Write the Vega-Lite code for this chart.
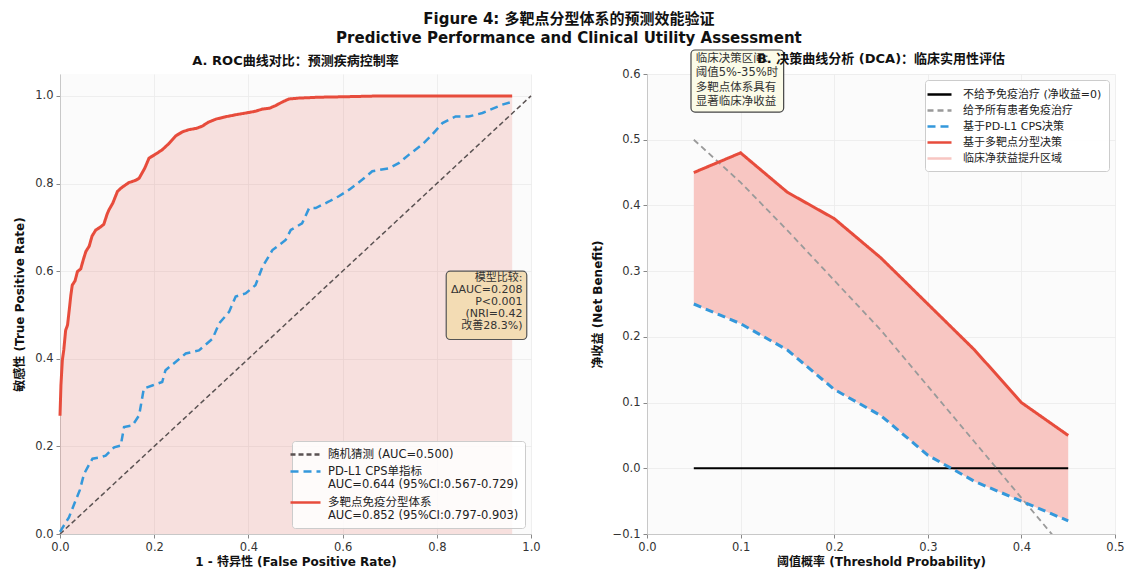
{
  "$schema": "https://vega.github.io/schema/vega-lite/v6.json",
  "background": "white",
  "padding": {"left": 13, "top": 12, "right": 5, "bottom": 5},
  "title": {
    "text": ["Figure 4: 多靶点分型体系的预测效能验证", "Predictive Performance and Clinical Utility Assessment"],
    "anchor": "middle",
    "fontSize": 15,
    "fontWeight": "bold",
    "lineHeight": 19,
    "color": "#111111",
    "offset": 3
  },
  "config": {
    "font": "DejaVu Sans, Noto Sans CJK SC",
    "view": {"stroke": null, "fill": "#fbfbfb"},
    "axis": {
      "domainColor": "#c8c8c8",
      "tickColor": "#888888",
      "tickSize": 4,
      "labelFontSize": 11.5,
      "labelColor": "#333333",
      "labelPadding": 3,
      "labelFlush": false,
      "titleFontSize": 12,
      "titleFontWeight": "bold",
      "titleColor": "#111111",
      "gridColor": "#ebebeb",
      "gridWidth": 0.8
    }
  },
  "spacing": 50,
  "resolve": {
    "scale": {"color": "independent", "strokeDash": "independent"},
    "legend": {"color": "independent", "strokeDash": "independent"}
  },
  "datasets": {
    "roc": [
      {"fpr": 0, "tpr": 0, "roc_series": "随机猜测 (AUC=0.500)"},
      {"fpr": 1, "tpr": 1, "roc_series": "随机猜测 (AUC=0.500)"},
      {"fpr": 0, "tpr": 0.005, "roc_series": "PD-L1 CPS单指标|AUC=0.644 (95%CI:0.567-0.729)"},
      {"fpr": 0.019, "tpr": 0.038, "roc_series": "PD-L1 CPS单指标|AUC=0.644 (95%CI:0.567-0.729)"},
      {"fpr": 0.033, "tpr": 0.076, "roc_series": "PD-L1 CPS单指标|AUC=0.644 (95%CI:0.567-0.729)"},
      {"fpr": 0.042, "tpr": 0.1, "roc_series": "PD-L1 CPS单指标|AUC=0.644 (95%CI:0.567-0.729)"},
      {"fpr": 0.051, "tpr": 0.137, "roc_series": "PD-L1 CPS单指标|AUC=0.644 (95%CI:0.567-0.729)"},
      {"fpr": 0.06, "tpr": 0.155, "roc_series": "PD-L1 CPS单指标|AUC=0.644 (95%CI:0.567-0.729)"},
      {"fpr": 0.069, "tpr": 0.172, "roc_series": "PD-L1 CPS单指标|AUC=0.644 (95%CI:0.567-0.729)"},
      {"fpr": 0.085, "tpr": 0.175, "roc_series": "PD-L1 CPS单指标|AUC=0.644 (95%CI:0.567-0.729)"},
      {"fpr": 0.097, "tpr": 0.179, "roc_series": "PD-L1 CPS单指标|AUC=0.644 (95%CI:0.567-0.729)"},
      {"fpr": 0.115, "tpr": 0.198, "roc_series": "PD-L1 CPS单指标|AUC=0.644 (95%CI:0.567-0.729)"},
      {"fpr": 0.129, "tpr": 0.202, "roc_series": "PD-L1 CPS单指标|AUC=0.644 (95%CI:0.567-0.729)"},
      {"fpr": 0.136, "tpr": 0.244, "roc_series": "PD-L1 CPS单指标|AUC=0.644 (95%CI:0.567-0.729)"},
      {"fpr": 0.154, "tpr": 0.248, "roc_series": "PD-L1 CPS单指标|AUC=0.644 (95%CI:0.567-0.729)"},
      {"fpr": 0.168, "tpr": 0.271, "roc_series": "PD-L1 CPS单指标|AUC=0.644 (95%CI:0.567-0.729)"},
      {"fpr": 0.178, "tpr": 0.332, "roc_series": "PD-L1 CPS单指标|AUC=0.644 (95%CI:0.567-0.729)"},
      {"fpr": 0.196, "tpr": 0.339, "roc_series": "PD-L1 CPS单指标|AUC=0.644 (95%CI:0.567-0.729)"},
      {"fpr": 0.217, "tpr": 0.347, "roc_series": "PD-L1 CPS单指标|AUC=0.644 (95%CI:0.567-0.729)"},
      {"fpr": 0.224, "tpr": 0.374, "roc_series": "PD-L1 CPS单指标|AUC=0.644 (95%CI:0.567-0.729)"},
      {"fpr": 0.246, "tpr": 0.393, "roc_series": "PD-L1 CPS单指标|AUC=0.644 (95%CI:0.567-0.729)"},
      {"fpr": 0.267, "tpr": 0.412, "roc_series": "PD-L1 CPS单指标|AUC=0.644 (95%CI:0.567-0.729)"},
      {"fpr": 0.295, "tpr": 0.419, "roc_series": "PD-L1 CPS单指标|AUC=0.644 (95%CI:0.567-0.729)"},
      {"fpr": 0.324, "tpr": 0.446, "roc_series": "PD-L1 CPS单指标|AUC=0.644 (95%CI:0.567-0.729)"},
      {"fpr": 0.338, "tpr": 0.481, "roc_series": "PD-L1 CPS单指标|AUC=0.644 (95%CI:0.567-0.729)"},
      {"fpr": 0.359, "tpr": 0.507, "roc_series": "PD-L1 CPS单指标|AUC=0.644 (95%CI:0.567-0.729)"},
      {"fpr": 0.373, "tpr": 0.542, "roc_series": "PD-L1 CPS单指标|AUC=0.644 (95%CI:0.567-0.729)"},
      {"fpr": 0.394, "tpr": 0.549, "roc_series": "PD-L1 CPS单指标|AUC=0.644 (95%CI:0.567-0.729)"},
      {"fpr": 0.415, "tpr": 0.568, "roc_series": "PD-L1 CPS单指标|AUC=0.644 (95%CI:0.567-0.729)"},
      {"fpr": 0.43, "tpr": 0.61, "roc_series": "PD-L1 CPS单指标|AUC=0.644 (95%CI:0.567-0.729)"},
      {"fpr": 0.451, "tpr": 0.648, "roc_series": "PD-L1 CPS单指标|AUC=0.644 (95%CI:0.567-0.729)"},
      {"fpr": 0.479, "tpr": 0.671, "roc_series": "PD-L1 CPS单指标|AUC=0.644 (95%CI:0.567-0.729)"},
      {"fpr": 0.49, "tpr": 0.694, "roc_series": "PD-L1 CPS单指标|AUC=0.644 (95%CI:0.567-0.729)"},
      {"fpr": 0.514, "tpr": 0.709, "roc_series": "PD-L1 CPS单指标|AUC=0.644 (95%CI:0.567-0.729)"},
      {"fpr": 0.529, "tpr": 0.744, "roc_series": "PD-L1 CPS单指标|AUC=0.644 (95%CI:0.567-0.729)"},
      {"fpr": 0.543, "tpr": 0.744, "roc_series": "PD-L1 CPS单指标|AUC=0.644 (95%CI:0.567-0.729)"},
      {"fpr": 0.571, "tpr": 0.759, "roc_series": "PD-L1 CPS单指标|AUC=0.644 (95%CI:0.567-0.729)"},
      {"fpr": 0.592, "tpr": 0.771, "roc_series": "PD-L1 CPS单指标|AUC=0.644 (95%CI:0.567-0.729)"},
      {"fpr": 0.614, "tpr": 0.786, "roc_series": "PD-L1 CPS单指标|AUC=0.644 (95%CI:0.567-0.729)"},
      {"fpr": 0.642, "tpr": 0.809, "roc_series": "PD-L1 CPS单指标|AUC=0.644 (95%CI:0.567-0.729)"},
      {"fpr": 0.663, "tpr": 0.828, "roc_series": "PD-L1 CPS单指标|AUC=0.644 (95%CI:0.567-0.729)"},
      {"fpr": 0.699, "tpr": 0.835, "roc_series": "PD-L1 CPS单指标|AUC=0.644 (95%CI:0.567-0.729)"},
      {"fpr": 0.72, "tpr": 0.847, "roc_series": "PD-L1 CPS单指标|AUC=0.644 (95%CI:0.567-0.729)"},
      {"fpr": 0.741, "tpr": 0.866, "roc_series": "PD-L1 CPS单指标|AUC=0.644 (95%CI:0.567-0.729)"},
      {"fpr": 0.769, "tpr": 0.889, "roc_series": "PD-L1 CPS单指标|AUC=0.644 (95%CI:0.567-0.729)"},
      {"fpr": 0.787, "tpr": 0.908, "roc_series": "PD-L1 CPS单指标|AUC=0.644 (95%CI:0.567-0.729)"},
      {"fpr": 0.812, "tpr": 0.938, "roc_series": "PD-L1 CPS单指标|AUC=0.644 (95%CI:0.567-0.729)"},
      {"fpr": 0.84, "tpr": 0.953, "roc_series": "PD-L1 CPS单指标|AUC=0.644 (95%CI:0.567-0.729)"},
      {"fpr": 0.868, "tpr": 0.953, "roc_series": "PD-L1 CPS单指标|AUC=0.644 (95%CI:0.567-0.729)"},
      {"fpr": 0.897, "tpr": 0.961, "roc_series": "PD-L1 CPS单指标|AUC=0.644 (95%CI:0.567-0.729)"},
      {"fpr": 0.939, "tpr": 0.98, "roc_series": "PD-L1 CPS单指标|AUC=0.644 (95%CI:0.567-0.729)"},
      {"fpr": 0.955, "tpr": 0.985, "roc_series": "PD-L1 CPS单指标|AUC=0.644 (95%CI:0.567-0.729)"},
      {"fpr": 0, "tpr": 0.27, "roc_series": "多靶点免疫分型体系|AUC=0.852 (95%CI:0.797-0.903)"},
      {"fpr": 0.002, "tpr": 0.34, "roc_series": "多靶点免疫分型体系|AUC=0.852 (95%CI:0.797-0.903)"},
      {"fpr": 0.005, "tpr": 0.397, "roc_series": "多靶点免疫分型体系|AUC=0.852 (95%CI:0.797-0.903)"},
      {"fpr": 0.008, "tpr": 0.42, "roc_series": "多靶点免疫分型体系|AUC=0.852 (95%CI:0.797-0.903)"},
      {"fpr": 0.012, "tpr": 0.465, "roc_series": "多靶点免疫分型体系|AUC=0.852 (95%CI:0.797-0.903)"},
      {"fpr": 0.016, "tpr": 0.477, "roc_series": "多靶点免疫分型体系|AUC=0.852 (95%CI:0.797-0.903)"},
      {"fpr": 0.02, "tpr": 0.515, "roc_series": "多靶点免疫分型体系|AUC=0.852 (95%CI:0.797-0.903)"},
      {"fpr": 0.023, "tpr": 0.545, "roc_series": "多靶点免疫分型体系|AUC=0.852 (95%CI:0.797-0.903)"},
      {"fpr": 0.026, "tpr": 0.568, "roc_series": "多靶点免疫分型体系|AUC=0.852 (95%CI:0.797-0.903)"},
      {"fpr": 0.032, "tpr": 0.578, "roc_series": "多靶点免疫分型体系|AUC=0.852 (95%CI:0.797-0.903)"},
      {"fpr": 0.037, "tpr": 0.599, "roc_series": "多靶点免疫分型体系|AUC=0.852 (95%CI:0.797-0.903)"},
      {"fpr": 0.044, "tpr": 0.605, "roc_series": "多靶点免疫分型体系|AUC=0.852 (95%CI:0.797-0.903)"},
      {"fpr": 0.05, "tpr": 0.628, "roc_series": "多靶点免疫分型体系|AUC=0.852 (95%CI:0.797-0.903)"},
      {"fpr": 0.055, "tpr": 0.645, "roc_series": "多靶点免疫分型体系|AUC=0.852 (95%CI:0.797-0.903)"},
      {"fpr": 0.062, "tpr": 0.657, "roc_series": "多靶点免疫分型体系|AUC=0.852 (95%CI:0.797-0.903)"},
      {"fpr": 0.068, "tpr": 0.68, "roc_series": "多靶点免疫分型体系|AUC=0.852 (95%CI:0.797-0.903)"},
      {"fpr": 0.076, "tpr": 0.694, "roc_series": "多靶点免疫分型体系|AUC=0.852 (95%CI:0.797-0.903)"},
      {"fpr": 0.085, "tpr": 0.7, "roc_series": "多靶点免疫分型体系|AUC=0.852 (95%CI:0.797-0.903)"},
      {"fpr": 0.093, "tpr": 0.707, "roc_series": "多靶点免疫分型体系|AUC=0.852 (95%CI:0.797-0.903)"},
      {"fpr": 0.1, "tpr": 0.73, "roc_series": "多靶点免疫分型体系|AUC=0.852 (95%CI:0.797-0.903)"},
      {"fpr": 0.104, "tpr": 0.74, "roc_series": "多靶点免疫分型体系|AUC=0.852 (95%CI:0.797-0.903)"},
      {"fpr": 0.112, "tpr": 0.755, "roc_series": "多靶点免疫分型体系|AUC=0.852 (95%CI:0.797-0.903)"},
      {"fpr": 0.122, "tpr": 0.782, "roc_series": "多靶点免疫分型体系|AUC=0.852 (95%CI:0.797-0.903)"},
      {"fpr": 0.13, "tpr": 0.79, "roc_series": "多靶点免疫分型体系|AUC=0.852 (95%CI:0.797-0.903)"},
      {"fpr": 0.146, "tpr": 0.802, "roc_series": "多靶点免疫分型体系|AUC=0.852 (95%CI:0.797-0.903)"},
      {"fpr": 0.16, "tpr": 0.807, "roc_series": "多靶点免疫分型体系|AUC=0.852 (95%CI:0.797-0.903)"},
      {"fpr": 0.168, "tpr": 0.812, "roc_series": "多靶点免疫分型体系|AUC=0.852 (95%CI:0.797-0.903)"},
      {"fpr": 0.18, "tpr": 0.835, "roc_series": "多靶点免疫分型体系|AUC=0.852 (95%CI:0.797-0.903)"},
      {"fpr": 0.189, "tpr": 0.858, "roc_series": "多靶点免疫分型体系|AUC=0.852 (95%CI:0.797-0.903)"},
      {"fpr": 0.2, "tpr": 0.865, "roc_series": "多靶点免疫分型体系|AUC=0.852 (95%CI:0.797-0.903)"},
      {"fpr": 0.217, "tpr": 0.877, "roc_series": "多靶点免疫分型体系|AUC=0.852 (95%CI:0.797-0.903)"},
      {"fpr": 0.23, "tpr": 0.89, "roc_series": "多靶点免疫分型体系|AUC=0.852 (95%CI:0.797-0.903)"},
      {"fpr": 0.246, "tpr": 0.909, "roc_series": "多靶点免疫分型体系|AUC=0.852 (95%CI:0.797-0.903)"},
      {"fpr": 0.26, "tpr": 0.918, "roc_series": "多靶点免疫分型体系|AUC=0.852 (95%CI:0.797-0.903)"},
      {"fpr": 0.274, "tpr": 0.923, "roc_series": "多靶点免疫分型体系|AUC=0.852 (95%CI:0.797-0.903)"},
      {"fpr": 0.29, "tpr": 0.926, "roc_series": "多靶点免疫分型体系|AUC=0.852 (95%CI:0.797-0.903)"},
      {"fpr": 0.302, "tpr": 0.931, "roc_series": "多靶点免疫分型体系|AUC=0.852 (95%CI:0.797-0.903)"},
      {"fpr": 0.315, "tpr": 0.94, "roc_series": "多靶点免疫分型体系|AUC=0.852 (95%CI:0.797-0.903)"},
      {"fpr": 0.331, "tpr": 0.947, "roc_series": "多靶点免疫分型体系|AUC=0.852 (95%CI:0.797-0.903)"},
      {"fpr": 0.35, "tpr": 0.952, "roc_series": "多靶点免疫分型体系|AUC=0.852 (95%CI:0.797-0.903)"},
      {"fpr": 0.373, "tpr": 0.957, "roc_series": "多靶点免疫分型体系|AUC=0.852 (95%CI:0.797-0.903)"},
      {"fpr": 0.395, "tpr": 0.961, "roc_series": "多靶点免疫分型体系|AUC=0.852 (95%CI:0.797-0.903)"},
      {"fpr": 0.415, "tpr": 0.965, "roc_series": "多靶点免疫分型体系|AUC=0.852 (95%CI:0.797-0.903)"},
      {"fpr": 0.43, "tpr": 0.97, "roc_series": "多靶点免疫分型体系|AUC=0.852 (95%CI:0.797-0.903)"},
      {"fpr": 0.445, "tpr": 0.972, "roc_series": "多靶点免疫分型体系|AUC=0.852 (95%CI:0.797-0.903)"},
      {"fpr": 0.458, "tpr": 0.978, "roc_series": "多靶点免疫分型体系|AUC=0.852 (95%CI:0.797-0.903)"},
      {"fpr": 0.47, "tpr": 0.985, "roc_series": "多靶点免疫分型体系|AUC=0.852 (95%CI:0.797-0.903)"},
      {"fpr": 0.486, "tpr": 0.993, "roc_series": "多靶点免疫分型体系|AUC=0.852 (95%CI:0.797-0.903)"},
      {"fpr": 0.507, "tpr": 0.995, "roc_series": "多靶点免疫分型体系|AUC=0.852 (95%CI:0.797-0.903)"},
      {"fpr": 0.55, "tpr": 0.997, "roc_series": "多靶点免疫分型体系|AUC=0.852 (95%CI:0.797-0.903)"},
      {"fpr": 0.6, "tpr": 0.998, "roc_series": "多靶点免疫分型体系|AUC=0.852 (95%CI:0.797-0.903)"},
      {"fpr": 0.684, "tpr": 1.0, "roc_series": "多靶点免疫分型体系|AUC=0.852 (95%CI:0.797-0.903)"},
      {"fpr": 0.8, "tpr": 1.0, "roc_series": "多靶点免疫分型体系|AUC=0.852 (95%CI:0.797-0.903)"},
      {"fpr": 0.96, "tpr": 1.0, "roc_series": "多靶点免疫分型体系|AUC=0.852 (95%CI:0.797-0.903)"}
    ],
    "dca": [
      {"t": 0.05, "nb": 0, "dca_series": "不给予免疫治疗 (净收益=0)"},
      {"t": 0.45, "nb": 0, "dca_series": "不给予免疫治疗 (净收益=0)"},
      {"t": 0.05, "nb": 0.5, "dca_series": "给予所有患者免疫治疗"},
      {"t": 0.1, "nb": 0.435, "dca_series": "给予所有患者免疫治疗"},
      {"t": 0.15, "nb": 0.362, "dca_series": "给予所有患者免疫治疗"},
      {"t": 0.2, "nb": 0.286, "dca_series": "给予所有患者免疫治疗"},
      {"t": 0.25, "nb": 0.21, "dca_series": "给予所有患者免疫治疗"},
      {"t": 0.3, "nb": 0.125, "dca_series": "给予所有患者免疫治疗"},
      {"t": 0.35, "nb": 0.04, "dca_series": "给予所有患者免疫治疗"},
      {"t": 0.4, "nb": -0.045, "dca_series": "给予所有患者免疫治疗"},
      {"t": 0.45, "nb": -0.13, "dca_series": "给予所有患者免疫治疗"},
      {"t": 0.05, "nb": 0.25, "dca_series": "基于PD-L1 CPS决策"},
      {"t": 0.1, "nb": 0.22, "dca_series": "基于PD-L1 CPS决策"},
      {"t": 0.15, "nb": 0.18, "dca_series": "基于PD-L1 CPS决策"},
      {"t": 0.2, "nb": 0.12, "dca_series": "基于PD-L1 CPS决策"},
      {"t": 0.25, "nb": 0.08, "dca_series": "基于PD-L1 CPS决策"},
      {"t": 0.3, "nb": 0.02, "dca_series": "基于PD-L1 CPS决策"},
      {"t": 0.35, "nb": -0.02, "dca_series": "基于PD-L1 CPS决策"},
      {"t": 0.4, "nb": -0.05, "dca_series": "基于PD-L1 CPS决策"},
      {"t": 0.45, "nb": -0.08, "dca_series": "基于PD-L1 CPS决策"},
      {"t": 0.05, "nb": 0.45, "dca_series": "基于多靶点分型决策"},
      {"t": 0.1, "nb": 0.48, "dca_series": "基于多靶点分型决策"},
      {"t": 0.15, "nb": 0.42, "dca_series": "基于多靶点分型决策"},
      {"t": 0.2, "nb": 0.38, "dca_series": "基于多靶点分型决策"},
      {"t": 0.25, "nb": 0.32, "dca_series": "基于多靶点分型决策"},
      {"t": 0.3, "nb": 0.25, "dca_series": "基于多靶点分型决策"},
      {"t": 0.35, "nb": 0.18, "dca_series": "基于多靶点分型决策"},
      {"t": 0.4, "nb": 0.1, "dca_series": "基于多靶点分型决策"},
      {"t": 0.45, "nb": 0.05, "dca_series": "基于多靶点分型决策"}
    ]
  },
  "hconcat": [
    {
      "width": 471,
      "height": 460,
      "title": {"text": "A. ROC曲线对比：预测疾病控制率", "fontSize": 13, "fontWeight": "bold", "offset": 6, "anchor": "middle", "color": "#111111"},
      "layer": [
        {
          "data": {"name": "roc"},
          "transform": [{"filter": "indexof(datum.roc_series, '多靶点') === 0"}],
          "mark": {"type": "area", "color": "#e74c3c", "opacity": 0.15},
          "encoding": {
            "x": {"field": "fpr", "type": "quantitative", "scale": {"domain": [0, 1], "nice": false}},
            "y": {"field": "tpr", "type": "quantitative", "scale": {"domain": [0, 1.05], "nice": false}}
          }
        },
        {
          "data": {"name": "roc"},
          "mark": {"type": "line"},
          "encoding": {
            "x": {"field": "fpr", "type": "quantitative", "scale": {"domain": [0, 1], "nice": false},
              "axis": {"values": [0, 0.2, 0.4, 0.6, 0.8, 1.0], "format": ".1f", "title": "1 - 特异性 (False Positive Rate)", "titlePadding": 4}},
            "y": {"field": "tpr", "type": "quantitative", "scale": {"domain": [0, 1.05], "nice": false},
              "axis": {"values": [0, 0.2, 0.4, 0.6, 0.8, 1.0], "format": ".1f", "title": "敏感性 (True Positive Rate)", "titlePadding": 8}},
            "color": {"field": "roc_series", "type": "nominal",
              "scale": {"domain": ["随机猜测 (AUC=0.500)", "PD-L1 CPS单指标|AUC=0.644 (95%CI:0.567-0.729)", "多靶点免疫分型体系|AUC=0.852 (95%CI:0.797-0.903)"],
                "range": ["#5a5252", "#3498db", "#e74c3c"]},
              "legend": {
                "title": null, "orient": "bottom-right", "offset": 6, "padding": 6,
                "fillColor": "rgba(255,255,255,0.85)", "strokeColor": "#cccccc", "cornerRadius": 3,
                "labelFontSize": 11.5, "labelColor": "#222222", "labelLimit": 400,
                "labelExpr": "split(datum.label, '|')",
                "symbolType": "M-2.5,0H2.5", "symbolSize": 144, "symbolStrokeWidth": 2.5, "rowPadding": 4, "labelOffset": 15
              }},
            "strokeDash": {"field": "roc_series", "type": "nominal",
              "scale": {"domain": ["随机猜测 (AUC=0.500)", "PD-L1 CPS单指标|AUC=0.644 (95%CI:0.567-0.729)", "多靶点免疫分型体系|AUC=0.852 (95%CI:0.797-0.903)"],
                "range": [[5, 3], [8, 5], [1, 0]]},
              "legend": {
                "title": null, "orient": "bottom-right", "offset": 6, "padding": 6,
                "fillColor": "rgba(255,255,255,0.85)", "strokeColor": "#cccccc", "cornerRadius": 3,
                "labelFontSize": 11.5, "labelColor": "#222222", "labelLimit": 400,
                "labelExpr": "split(datum.label, '|')",
                "symbolType": "M-2.5,0H2.5", "symbolSize": 144, "symbolStrokeWidth": 2.5, "rowPadding": 4, "labelOffset": 15
              }},
            "strokeWidth": {
              "condition": [
                {"test": "indexof(datum.roc_series, '多靶点') === 0", "value": 3},
                {"test": "indexof(datum.roc_series, '随机') === 0", "value": 1.5}
              ],
              "value": 2.5
            }
          }
        },
        {
          "data": {"values": [{}]},
          "mark": {"type": "rect", "fill": "#f3dcb4", "stroke": "#555555", "strokeWidth": 1.2, "cornerRadius": 4},
          "encoding": {
            "x": {"datum": 0.82, "type": "quantitative"},
            "x2": {"datum": 0.991},
            "y": {"datum": 0.6, "type": "quantitative"},
            "y2": {"datum": 0.444}
          }
        },
        {
          "data": {"values": [{}]},
          "mark": {"type": "text", "align": "right", "baseline": "middle", "fontSize": 11, "lineHeight": 12, "color": "#333333"},
          "encoding": {
            "x": {"datum": 0.982, "type": "quantitative"},
            "y": {"datum": 0.5835, "type": "quantitative"},
            "text": {"value": ["模型比较:", "ΔAUC=0.208", "P<0.001", "(NRI=0.42", "改善28.3%)"]}
          }
        }
      ]
    },
    {
      "width": 468,
      "height": 460,
      "title": {"text": "B. 决策曲线分析 (DCA)：临床实用性评估", "fontSize": 13, "fontWeight": "bold", "offset": -17, "anchor": "middle", "color": "#111111"},
      "layer": [
        {
          "data": {"name": "dca"},
          "transform": [
            {"filter": "datum.dca_series === '基于PD-L1 CPS决策' || datum.dca_series === '基于多靶点分型决策'"},
            {"pivot": "dca_series", "value": "nb", "groupby": ["t"]}
          ],
          "mark": {"type": "area", "opacity": 1},
          "encoding": {
            "x": {"field": "t", "type": "quantitative", "scale": {"domain": [0, 0.5], "nice": false}},
            "y": {"field": "基于多靶点分型决策", "type": "quantitative", "scale": {"domain": [-0.1, 0.6], "nice": false}},
            "y2": {"field": "基于PD-L1 CPS决策"},
            "color": {"datum": "临床净获益提升区域"}
          }
        },
        {
          "data": {"name": "dca"},
          "mark": {"type": "line", "clip": true},
          "encoding": {
            "x": {"field": "t", "type": "quantitative", "scale": {"domain": [0, 0.5], "nice": false},
              "axis": {"values": [0, 0.1, 0.2, 0.3, 0.4, 0.5], "format": ".1f", "title": "阈值概率 (Threshold Probability)", "titlePadding": 4}},
            "y": {"field": "nb", "type": "quantitative", "scale": {"domain": [-0.1, 0.6], "nice": false},
              "axis": {"values": [-0.1, 0, 0.1, 0.2, 0.3, 0.4, 0.5, 0.6], "format": ".1f", "title": "净收益 (Net Benefit)", "titlePadding": 8}},
            "color": {"field": "dca_series", "type": "nominal",
              "scale": {"domain": ["不给予免疫治疗 (净收益=0)", "给予所有患者免疫治疗", "基于PD-L1 CPS决策", "基于多靶点分型决策", "临床净获益提升区域"],
                "range": ["#000000", "#9a9a9a", "#3498db", "#e74c3c", "#f8c6c2"]},
              "legend": {
                "title": null, "orient": "top-right", "offset": 6, "padding": 7,
                "fillColor": "rgba(255,255,255,0.9)", "strokeColor": "#cccccc", "cornerRadius": 3,
                "labelFontSize": 11, "labelColor": "#222222", "labelLimit": 400,
                "symbolType": "M-2,0H2", "symbolSize": 144, "symbolStrokeWidth": 2.5, "rowPadding": 3, "labelOffset": 16
              }},
            "strokeDash": {"field": "dca_series", "type": "nominal",
              "scale": {"domain": ["不给予免疫治疗 (净收益=0)", "给予所有患者免疫治疗", "基于PD-L1 CPS决策", "基于多靶点分型决策", "临床净获益提升区域"],
                "range": [[1, 0], [6, 4], [8, 5], [1, 0], [1, 0]]},
              "legend": {
                "title": null, "orient": "top-right", "offset": 6, "padding": 7,
                "fillColor": "rgba(255,255,255,0.9)", "strokeColor": "#cccccc", "cornerRadius": 3,
                "labelFontSize": 11, "labelColor": "#222222", "labelLimit": 400,
                "symbolType": "M-2,0H2", "symbolSize": 144, "symbolStrokeWidth": 2.5, "rowPadding": 3, "labelOffset": 16
              }},
            "strokeWidth": {
              "condition": [
                {"test": "datum.dca_series === '给予所有患者免疫治疗'", "value": 1.8},
                {"test": "datum.dca_series === '不给予免疫治疗 (净收益=0)'", "value": 2}
              ],
              "value": 3
            }
          }
        },
        {
          "data": {"values": [{}]},
          "mark": {"type": "rect", "fill": "#fbfbe8", "stroke": "#444444", "strokeWidth": 1.2, "cornerRadius": 4},
          "encoding": {
            "x": {"datum": 0.047, "type": "quantitative"},
            "x2": {"datum": 0.146},
            "y": {"datum": 0.6365, "type": "quantitative"},
            "y2": {"datum": 0.542}
          }
        },
        {
          "data": {"values": [{}]},
          "mark": {"type": "text", "align": "left", "baseline": "middle", "fontSize": 11.5, "lineHeight": 14.3, "color": "#333333"},
          "encoding": {
            "x": {"datum": 0.052, "type": "quantitative"},
            "y": {"datum": 0.6228, "type": "quantitative"},
            "text": {"value": ["临床决策区间:", "阈值5%-35%时", "多靶点体系具有", "显著临床净收益"]}
          }
        }
      ]
    }
  ]
}
